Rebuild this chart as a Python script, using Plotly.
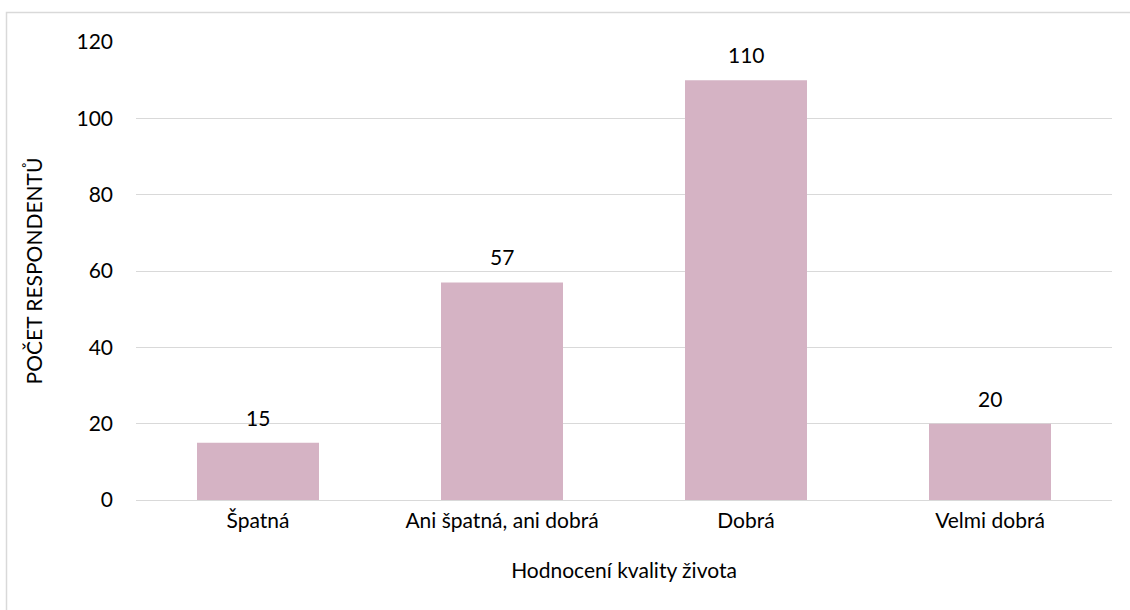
import plotly.graph_objects as go

categories = ["Špatná", "Ani špatná, ani dobrá", "Dobrá", "Velmi dobrá"]
values = [15, 57, 110, 20]
y_ticks = [0, 20, 40, 60, 80, 100, 120]

FONT = "Lato, 'Open Sans', sans-serif"
FS = 21

fig = go.Figure()
fig.add_trace(go.Bar(
    x=categories, y=values,
    marker=dict(color="#d5b3c4", line=dict(width=0)),
    width=0.5,
))
for c, v in zip(categories, values):
    fig.add_annotation(x=c, y=v, text=str(v), showarrow=False, yanchor="bottom",
                       yshift=11, font=dict(size=FS, color="#000000", family=FONT))

L, R, T, B = 136, 18, 42, 110
W, H = 1130, 610
pw, ph = W - L - R, H - T - B
fig.add_shape(type="rect", xref="paper", yref="paper",
              x0=(6.5 - L) / pw, x1=(1140 - L) / pw,
              y0=-(620 - (H - B)) / ph, y1=1 + (T - 12.5) / ph,
              line=dict(color="#d9d9d9", width=1.5), fillcolor="rgba(0,0,0,0)", layer="below")

fig.update_layout(
    width=W, height=H,
    margin=dict(l=L, r=R, t=T, b=B),
    paper_bgcolor="white", plot_bgcolor="white",
    font=dict(family=FONT, size=FS, color="#000000"),
    showlegend=False,
    bargap=0.5,
    xaxis=dict(
        title=dict(text="Hodnocení kvality života", font=dict(size=FS), standoff=32),
        showline=False, ticks="", showgrid=False,
        tickfont=dict(size=FS), ticklabelstandoff=6,
    ),
    yaxis=dict(
        title=dict(text="POČET RESPONDENTŮ", font=dict(size=FS), standoff=28),
        range=[0, 120], tickvals=y_ticks, ticktext=[str(t) for t in y_ticks],
        showgrid=True, gridcolor="#d9d9d9", gridwidth=1,
        zeroline=True, zerolinecolor="#d9d9d9", zerolinewidth=1,
        showline=False, ticks="", ticklabelstandoff=22,
        tickfont=dict(size=FS),
    ),
)

fig.write_html("out.html")
